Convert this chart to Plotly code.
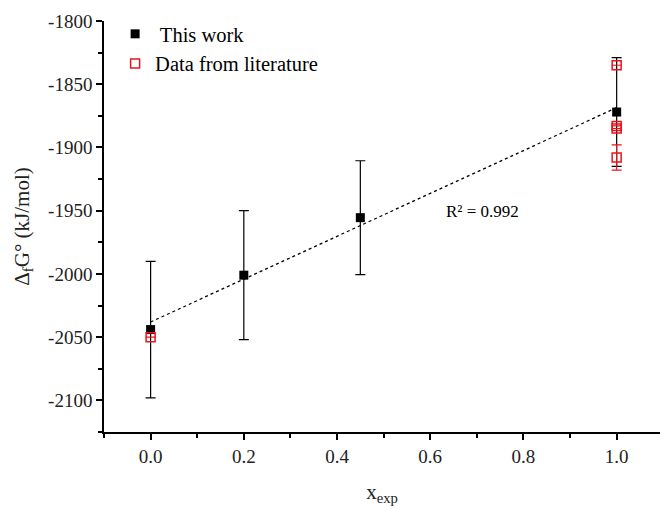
import numpy as np
import plotly.graph_objects as go

# ---- data ----
x_this = [0.0, 0.2, 0.45, 1.0]
y_this = [-2044, -2001, -1955.5, -1872]
err_this = [54, 51, 45, 43]

x_lit = [0.0, 1.0, 1.0, 1.0, 1.0]
y_lit = [-2050, -1835, -1883, -1885, -1908]
err_lit = [0, 0, 0, 0, 10]

r2_text = "R² = 0.992"

x_ticks = [0.0, 0.2, 0.4, 0.6, 0.8, 1.0]
x_ticktext = ["0.0", "0.2", "0.4", "0.6", "0.8", "1.0"]
y_ticks = [-2100, -2050, -2000, -1950, -1900, -1850, -1800]
y_ticktext = ["-2100", "-2050", "-2000", "-1950", "-1900", "-1850", "-1800"]

FONT = "Liberation Serif, Times New Roman, serif"

# linear fit of this work
slope, intercept = np.polyfit(x_this, y_this, 1)
xf = np.array([0.0, 1.0])
yf = slope * xf + intercept

fig = go.Figure()

fig.add_trace(go.Scatter(
    x=xf, y=yf, mode="lines",
    line=dict(color="black", width=1.3, dash="dot"),
    showlegend=False, hoverinfo="skip"))

fig.add_trace(go.Scatter(
    x=x_this, y=y_this, mode="markers", name=" This work",
    marker=dict(symbol="square", size=9, color="black"),
    error_y=dict(type="data", array=err_this, color="black", thickness=1.2, width=5)))

fig.add_trace(go.Scatter(
    x=x_lit, y=y_lit, mode="markers", name="Data from literature",
    marker=dict(symbol="square-open", size=9, color="#e8141c", line=dict(width=1.5)),
    error_y=dict(type="data", array=err_lit, color="#e8141c", thickness=1.2, width=5)))

fig.add_annotation(x=0.713, y=-1951, text=r2_text, showarrow=False,
                   font=dict(family=FONT, size=17, color="black"))

axis_common = dict(
    showline=True, linecolor="black", linewidth=1.5,
    ticks="outside", ticklen=6, tickwidth=1.5, tickcolor="black",
    showgrid=False, zeroline=False, mirror=False,
    tickfont=dict(family=FONT, size=19, color="#222"),
)

fig.update_xaxes(
    range=[-0.1, 1.093], tickvals=x_ticks, ticktext=x_ticktext,
    minor=dict(dtick=0.1, tick0=0, ticks="outside", ticklen=4, tickwidth=1.5, tickcolor="black"),
    title=dict(text="x<sub>exp</sub>", font=dict(family=FONT, size=21, color="#222"), standoff=22),
    **axis_common)
fig.update_yaxes(
    range=[-2125, -1800], tickvals=y_ticks, ticktext=y_ticktext,
    minor=dict(dtick=25, tick0=-1800, ticks="outside", ticklen=4, tickwidth=1.5, tickcolor="black"),
    title=dict(text="Δ<sub>f</sub>G° (kJ/mol)", font=dict(family=FONT, size=21, color="#222"), standoff=13),
    **axis_common)

fig.update_layout(
    width=660, height=506,
    margin=dict(l=104, r=0, t=21, b=74, autoexpand=False),
    paper_bgcolor="white", plot_bgcolor="white",
    legend=dict(x=0.02, y=1.017, xanchor="left", yanchor="top",
                bgcolor="rgba(0,0,0,0)", font=dict(family=FONT, size=20.5, color="black"),
                itemwidth=30, tracegroupgap=0),
)

fig.write_html("out.html", config={"displayModeBar": False},
               post_script="document.body.style.margin='0';document.body.style.padding='0';")
